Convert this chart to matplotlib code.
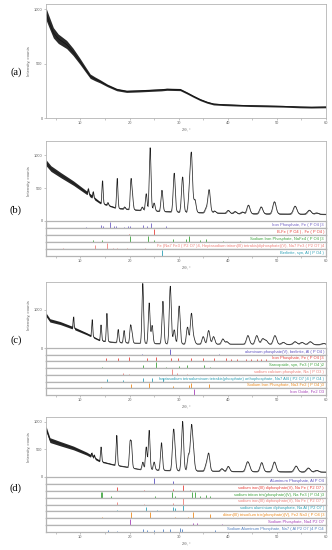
import numpy as np
import matplotlib
matplotlib.use("Agg")
import matplotlib.pyplot as plt

# ---- panel (a): amorphous pattern, read point by point
A_X = [3.0, 3.5, 4.5, 5.5, 7.2, 8.5, 9.9, 11.0, 12.0, 13.0, 14.0, 15.5, 17.4, 19.4, 22.0,
       24.2, 26.5, 27.6, 30.3, 31.7, 33.0, 34.4, 35.8, 37.1, 39.1, 42.0, 44.5, 48.0,
       51.3, 54.7, 57.0, 60.0]
A_Y = [960, 900, 785, 730, 677, 610, 523, 450, 385, 360, 338, 300, 262, 246, 250,
       255, 260, 265, 262, 231, 200, 169, 145, 129, 123, 118, 114, 111,
       108, 102, 100, 102]
A_NOISE_X = [3, 5, 8, 12, 15, 20, 30, 40, 60]
A_NOISE = [55, 45, 35, 20, 12, 10, 10, 8, 8]

# ---- panel (b)
B_BG_X = [3, 4, 6, 8.6, 11.3, 14, 17.4, 22, 29, 37, 42.5, 60]
B_BG_Y = [890, 800, 700, 577, 430, 280, 195, 165, 140, 124, 113, 103]
B_PK_POS = [11.6, 12.6, 14.5, 15.6, 17.5, 19.0, 20.3, 20.6, 22.6, 23.4, 24.2, 25.0, 26.6,
            29.1, 30.8, 32.2, 32.6, 33.3, 35.6, 36.2, 37.3, 40.1, 41.5, 43.0, 44.2, 46.8,
            49.5, 53.7, 56.6, 58.1]
B_PK_H = [75, 85, 345, 40, 455, 30, 440, 200, 50, 256, 960, 120, 320,
          590, 535, 300, 850, 190, 65, 350, 30, 45, 30, 25, 130, 105,
          185, 120, 60, 20]

# ---- panel (c)
C_BG_X = [3, 3.8, 5.9, 8.6, 11.3, 14, 16.7, 22.1, 31.6, 45, 60]
C_BG_Y = [870, 720, 650, 520, 370, 195, 150, 123, 105, 100, 88]
C_PK_POS = [8.6, 12.4, 14.2, 15.4, 17.7, 18.9, 20.2, 20.5, 22.7, 24.0, 24.6, 26.8, 28.3,
            29.1, 30.1, 31.8, 32.6, 33.1, 35.0, 36.1, 37.1, 39.0, 39.8, 44.1, 45.9, 47.1,
            47.8, 49.6, 51.3, 53.7, 55.1, 56.8, 59.5]
C_PK_H = [287, 438, 410, 730, 337, 316, 430, 250, 1560, 1055, 468, 1104, 1500,
          364, 988, 440, 790, 130, 194, 353, 195, 135, 65, 225, 225, 139,
          95, 228, 54, 73, 56, 75, 33]

# ---- panel (d)
D_BG_X = [3, 3.8, 5.9, 8.6, 11.3, 14, 16.7, 19.4, 22.1, 27.6, 40, 60]
D_BG_Y = [880, 670, 606, 527, 424, 285, 224, 182, 139, 121, 103, 91]
D_PK_POS = [12.3, 12.8, 14.2, 17.4, 20.1, 20.4, 22.7, 23.4, 24.0, 25.0, 26.5, 28.9, 29.2,
            30.8, 32.0, 32.6, 33.0, 35.6, 36.1, 38.8, 40.1, 43.9, 44.3, 46.9, 49.5,
            53.9, 56.4, 58.1]
D_PK_H = [60, 50, 265, 543, 420, 400, 133, 410, 715, 143, 498, 600, 350,
          894, 278, 764, 300, 102, 314, 47, 91, 123, 100, 163, 176,
          105, 71, 29]

LOW_NOISE_X = [3, 8, 12, 15, 20, 60]
LOW_NOISE = [45, 35, 25, 10, 6, 5]

# ---- reference phases: (label, colour, positions, relative heights)
B_REFS = [
    ("Iron Phosphate, Fe ( P O4 )3", "#6f5fc4",
     [11.1, 14.2, 14.7, 16.0, 16.8, 17.3, 18.9, 19.6, 20.2, 22.7, 23.5, 24.3, 27.4],
     [0.2, 0.4, 0.35, 0.95, 0.3, 0.25, 0.2, 0.25, 0.3, 0.5, 0.35, 0.7, 0.3]),
    ("B-Fe ( P O4 ) , Fe ( P O4 )", "#e8403a", [19.8, 25.0], [0.15, 0.95]),
    ("Sodium Iron Phosphate, NaFe4 ( P O4 )3", "#3aa23a",
     [12.6, 14.3, 20.2, 23.8, 24.9, 28.9, 31.6, 32.2, 34.4, 35.6, 39.1, 42.5],
     [0.3, 0.35, 0.9, 0.85, 0.3, 0.5, 0.4, 0.9, 0.25, 0.4, 0.15, 0.15]),
    ("Fe (Na7 Fe3 ( P2 O7 )4, Heptasodium triiron(III) tetrakis(diphosphate)(V), Na7 Fe3 ( P2 O7 )4",
     "#f07f78", [6.4, 12.9, 15.5, 16.6, 17.5, 19.5, 23.2], [0.1, 0.6, 0.9, 0.2, 0.2, 0.2, 0.15]),
    ("Berlinite, syn, Al ( P O4 )", "#2a9fb5", [26.6], [0.95]),
]
C_REFS = [
    ("aluminum phosphate(V), berlinite, Al ( P O4 )", "#5b4fc0", [22.5, 28.3, 38.3], [0.15, 0.95, 0.1]),
    ("Iron Phosphate, Fe ( P O4 )3", "#e8403a",
     [15.3, 17.7, 19.9, 23.6, 25.3, 28.4, 29.8, 32.6, 35.0, 37.3, 39.7, 40.6, 41.8, 43.8,
      44.8, 45.9, 46.8, 47.8],
     [0.6, 0.5, 0.75, 0.6, 0.65, 0.5, 0.6, 0.55, 0.55, 0.55, 0.5, 0.4, 0.4, 0.4, 0.4, 0.4, 0.4, 0.4]),
    ("Sarcopside, syn, Fe3 ( P O4 )2", "#3aa23a",
     [14.5, 22.7, 25.4, 27.4, 30.1, 31.8, 35.2, 36.4], [0.2, 0.45, 0.9, 0.15, 0.3, 0.5, 0.5, 0.2]),
    ("sodium calcium phosphate, Na ( P O3 )", "#f07f78",
     [18.7, 19.9, 28.6, 29.7, 31.7], [0.3, 0.2, 0.9, 0.3, 0.2]),
    ("heptasodium tetraaluminum tetrakis(phosphate) orthophosphate, Na7 Al4 ( P2 O7 )4 ( P O4 )",
     "#2a9fb5", [15.4, 18.7, 22.7, 24.5, 26.8], [0.4, 0.3, 0.6, 0.5, 0.5]),
    ("Sodium Iron Phosphate, Na3 Fe2 ( P O4 )3", "#ec8a1e",
     [14.2, 20.4, 24.0, 28.9, 32.1, 32.5, 36.1], [0.2, 0.6, 0.9, 0.3, 0.5, 0.9, 0.6]),
    ("Iron Oxide, Fe2 O3", "#a63fb8", [33.2], [0.95]),
]
D_REFS = [
    ("Aluminum Phosphate, Al P O4", "#5b4fc0", [25.0, 28.9], [0.95, 0.5]),
    ("sodium iron(III) diphosphate(V), Na Fe ( P2 O7 )", "#e8403a",
     [17.4, 23.0, 28.9, 30.8, 32.3], [0.5, 0.15, 0.2, 0.95, 0.15]),
    ("sodium triiron tris(phosphate)(V), Na Fe3 ( P O4 )3", "#3aa23a",
     [14.1, 14.3, 16.2, 25.2, 28.6, 29.3, 32.7, 33.4, 34.4, 35.6, 36.4],
     [0.9, 0.8, 0.25, 0.2, 0.85, 0.25, 0.9, 0.9, 0.3, 0.4, 0.3]),
    ("sodium iron(III) diphosphate(V), Na Fe ( P2 O7 )", "#f07f78",
     [17.4, 23.0, 28.9, 30.8], [0.4, 0.15, 0.2, 0.95]),
    ("sodium aluminium diphosphate, Na Al ( P2 O7 )", "#2a9fb5",
     [17.4, 23.4, 25.5, 28.8, 29.3, 30.8], [0.2, 0.6, 0.2, 0.6, 0.5, 0.95]),
    ("diiron(III) trisodium tris(phosphate)(V), Fe2 Na3 ( P O4 )3", "#ec8a1e",
     [14.5, 20.4, 24.2, 29.3, 32.0, 32.9, 36.3], [0.25, 0.95, 0.9, 0.2, 0.2, 0.95, 0.6]),
    ("Sodium Phosphate, Na4 P2 O7", "#a63fb8", [20.1, 32.9, 33.7, 38.8], [0.95, 0.3, 0.3, 0.15]),
    ("Sodium Aluminum Phosphate, Na7 ( Al P2 O7 )4 P O4", "#4f7fc0",
     [15.7, 17.5, 22.8, 23.6, 25.0, 26.8, 28.3, 30.3, 30.6, 37.4],
     [0.3, 0.2, 0.5, 0.3, 0.3, 0.4, 0.5, 0.6, 0.4, 0.3]),
]

W, H = 332, 550
SPINE = "#b4b4b4"
TXT = "#666666"
plt.rcParams["font.family"] = ["Liberation Sans", "DejaVu Sans"]
fig = plt.figure(figsize=(W / 100, H / 100), dpi=100)


def add_ax(left, top, right, bottom):
    return fig.add_axes([left / W, 1 - bottom / H, (right - left) / W, (bottom - top) / H])


def style(ax, lw=0.6):
    for s in ax.spines.values():
        s.set_color(SPINE)
        s.set_linewidth(lw)
    ax.tick_params(length=1.5, width=0.4, color="#999999", labelsize=2.9,
                   labelcolor=TXT, pad=1)
    ax.set_xlim(3, 60)


def xticks(ax):
    ax.set_xticks(range(5, 61, 5))
    ax.set_xticklabels([str(v) if v % 10 == 0 else "" for v in range(5, 61, 5)])
    ax.set_xlabel("2θ, °", fontsize=3.0, color=TXT, labelpad=1.5)


def pattern(x, bg_x, bg_y, pos, hts):
    y = np.interp(x, bg_x, bg_y)
    for p, h in zip(pos, hts):
        w = 0.09 + 0.006 * max(p - 10, 0)
        y = y + h * np.exp(-0.5 * ((x - p) / w) ** 2)
    return y


def main_panel(ax, y, noise, ylim, yt):
    x = np.arange(3, 60, 0.02)
    amp = np.interp(x, LOW_NOISE_X, noise)
    ax.fill_between(x, y - amp, y + amp, color="#2a2a2a", lw=0)
    ax.plot(x, y, color="#1a1a1a", lw=0.5)
    ax.set_ylim(0, ylim)
    ax.set_yticks(yt)
    ax.set_ylabel("Intensity, counts", fontsize=3.1, color=TXT, labelpad=2)


def strips(top, bottom, refs):
    n = len(refs)
    hgt = (bottom - top) / n
    axes = []
    for i, (lab, col, pos, hts) in enumerate(refs):
        ax = add_ax(46, top + i * hgt, 326, top + (i + 1) * hgt)
        style(ax, lw=0.9)
        ax.vlines(pos, 0, hts, color=col, lw=0.6)
        ax.set_ylim(0, 1.05)
        ax.set_yticks([])
        ax.text(0.993, 0.45, lab, transform=ax.transAxes, ha="right", va="center",
                fontsize=2.9, color=col)
        if i < n - 1:
            ax.set_xticks([])
        axes.append(ax)
    xticks(axes[-1])


def letter(y, s):
    fig.text(16 / W, 1 - y / H, s, ha="center", va="center", fontsize=7.5,
             family="Liberation Serif")


# (a)
ax = add_ax(46, 4, 326, 118)
style(ax)
band = np.interp(A_X, A_NOISE_X, A_NOISE)
ax.fill_between(A_X, np.array(A_Y) - band, np.array(A_Y) + band, color="#2a2a2a", lw=0)
ax.plot(A_X, A_Y, color="#111111", lw=0.5)
ax.set_ylim(0, 1050)
ax.set_yticks([0, 500, 1000])
ax.set_ylabel("Intensity, counts", fontsize=3.1, color=TXT, labelpad=2)
xticks(ax)
letter(72, "(a)")

x = np.arange(3, 60, 0.02)

# (b)
ax = add_ax(46, 141, 326, 221)
style(ax)
main_panel(ax, pattern(x, B_BG_X, B_BG_Y, B_PK_POS, B_PK_H), LOW_NOISE, 1220, [0, 500, 1000])
ax.set_xticks([])
strips(221, 256, B_REFS)
letter(210, "(b)")

# (c)
ax = add_ax(46, 282, 326, 348)
style(ax)
main_panel(ax, pattern(x, C_BG_X, C_BG_Y, C_PK_POS, C_PK_H), LOW_NOISE, 1720, [0, 1000])
ax.set_xticks([])
strips(348, 395, C_REFS)
letter(340, "(c)")

# (d)
ax = add_ax(46, 417, 326, 477)
style(ax)
main_panel(ax, pattern(x, D_BG_X, D_BG_Y, D_PK_POS, D_PK_H), LOW_NOISE, 1090, [0, 500, 1000])
ax.set_xticks([])
strips(477, 532, D_REFS)
letter(488, "(d)")

fig.savefig("out.png", dpi=100, facecolor="white")
